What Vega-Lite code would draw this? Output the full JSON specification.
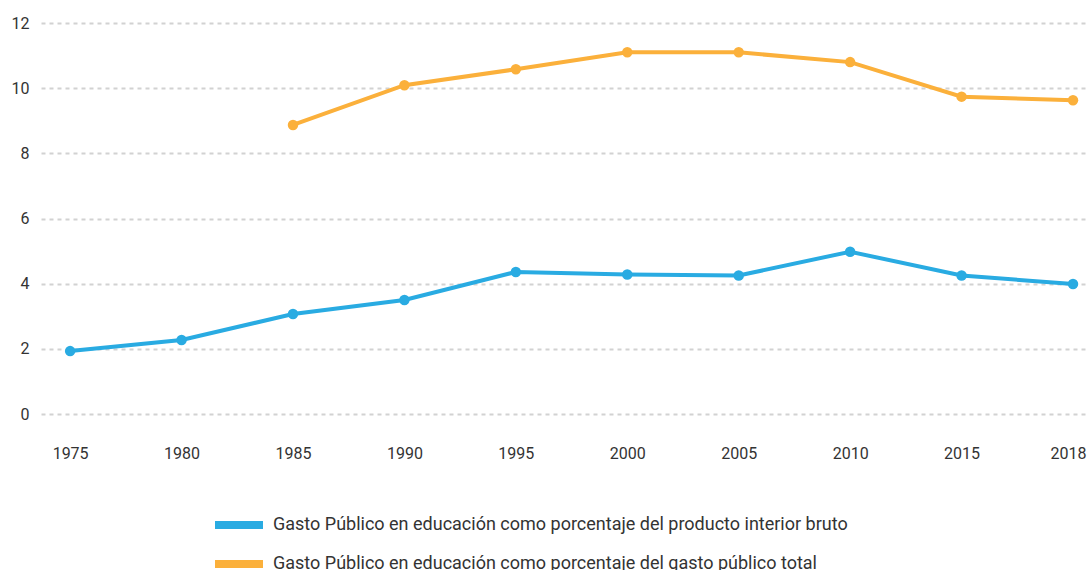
{
  "$schema": "https://vega.github.io/schema/vega-lite/v6.json",
  "width": 1047,
  "height": 391,
  "padding": {"left": 41, "top": 23, "right": 0, "bottom": 156},
  "autosize": {"type": "none"},
  "background": "white",
  "config": {
    "view": {"stroke": null},
    "font": "Roboto",
    "axis": {"labelFont": "Roboto", "labelFontSize": 16, "labelColor": "#333333"},
    "legend": {"labelFont": "Roboto", "labelFontSize": 18, "labelColor": "#333333"}
  },
  "data": {
    "values": [
      {"year": "1975", "serie": "Gasto Público en educación como porcentaje del producto interior bruto", "valor": 1.93},
      {"year": "1980", "serie": "Gasto Público en educación como porcentaje del producto interior bruto", "valor": 2.27},
      {"year": "1985", "serie": "Gasto Público en educación como porcentaje del producto interior bruto", "valor": 3.07},
      {"year": "1990", "serie": "Gasto Público en educación como porcentaje del producto interior bruto", "valor": 3.5},
      {"year": "1995", "serie": "Gasto Público en educación como porcentaje del producto interior bruto", "valor": 4.36},
      {"year": "2000", "serie": "Gasto Público en educación como porcentaje del producto interior bruto", "valor": 4.28},
      {"year": "2005", "serie": "Gasto Público en educación como porcentaje del producto interior bruto", "valor": 4.25},
      {"year": "2010", "serie": "Gasto Público en educación como porcentaje del producto interior bruto", "valor": 4.98},
      {"year": "2015", "serie": "Gasto Público en educación como porcentaje del producto interior bruto", "valor": 4.25},
      {"year": "2018", "serie": "Gasto Público en educación como porcentaje del producto interior bruto", "valor": 3.99},
      {"year": "1985", "serie": "Gasto Público en educación como porcentaje del gasto público total", "valor": 8.87},
      {"year": "1990", "serie": "Gasto Público en educación como porcentaje del gasto público total", "valor": 10.09},
      {"year": "1995", "serie": "Gasto Público en educación como porcentaje del gasto público total", "valor": 10.58},
      {"year": "2000", "serie": "Gasto Público en educación como porcentaje del gasto público total", "valor": 11.1},
      {"year": "2005", "serie": "Gasto Público en educación como porcentaje del gasto público total", "valor": 11.1},
      {"year": "2010", "serie": "Gasto Público en educación como porcentaje del gasto público total", "valor": 10.8},
      {"year": "2015", "serie": "Gasto Público en educación como porcentaje del gasto público total", "valor": 9.74},
      {"year": "2018", "serie": "Gasto Público en educación como porcentaje del gasto público total", "valor": 9.63}
    ]
  },
  "encoding": {
    "x": {
      "field": "year", "type": "ordinal",
      "scale": {"type": "point", "padding": 0.198, "align": 0.66},
      "axis": {"title": null, "labelAngle": 0, "domain": false, "ticks": false, "labelPadding": 31, "grid": false,
        "labelOffset": {"condition": {"test": "datum.value == '2018'", "value": -5}, "value": 0}}
    },
    "y": {
      "field": "valor", "type": "quantitative",
      "scale": {"domain": [0, 12], "nice": false},
      "axis": {"title": null, "values": [0, 2, 4, 6, 8, 10, 12], "domain": false, "ticks": false, "labelPadding": 12,
        "grid": true, "gridColor": "#d2d2d2", "gridWidth": 2, "gridDash": [4, 4]}
    },
    "color": {
      "field": "serie", "type": "nominal",
      "scale": {
        "domain": ["Gasto Público en educación como porcentaje del producto interior bruto", "Gasto Público en educación como porcentaje del gasto público total"],
        "range": ["#29abe2", "#fbb03b"]
      },
      "legend": {
        "title": null, "orient": "none", "legendX": 174, "legendY": 478, "direction": "vertical",
        "symbolType": "M-1,-0.17H1V0.17H-1Z", "symbolSize": 2304, "symbolStrokeWidth": 0,
        "rowPadding": 6, "labelOffset": 10, "padding": 0, "labelLimit": 0
      }
    }
  },
  "layer": [
    {"mark": {"type": "line", "strokeWidth": 4}},
    {"mark": {"type": "point", "filled": true, "opacity": 1, "size": 110}}
  ]
}
